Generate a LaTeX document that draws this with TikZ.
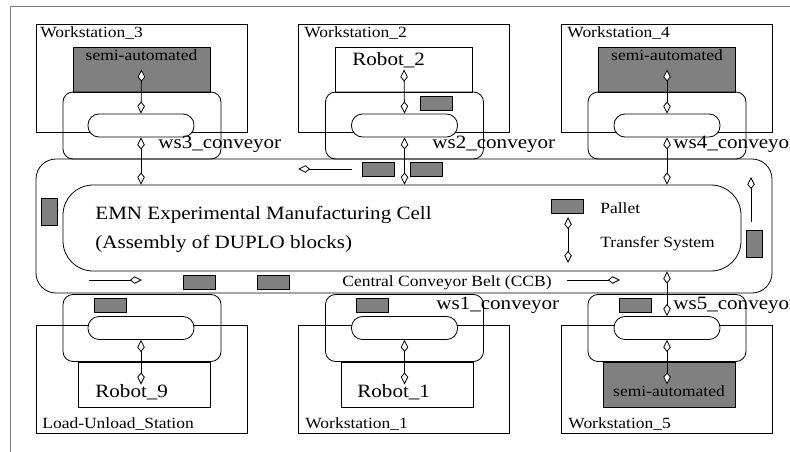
\documentclass[tikz,border=0pt]{standalone}
\usepackage{fontspec}
\setmainfont{Liberation Serif}[FakeStretch=1.12]
\usetikzlibrary{arrows.meta}

\definecolor{palletgray}{gray}{0.5}

\tikzset{
  station/.style={draw, minimum width=211pt, minimum height=108pt, inner sep=0pt},
  cellbox/.style={draw, minimum width=137pt, minimum height=45pt, inner sep=0pt},  % robot cell
  lowcell/.style={cellbox, minimum width=132pt},
  semi/.style={fill=palletgray},
  convbox/.style={draw, rounded corners=10pt, minimum width=158pt, minimum height=67pt, inner sep=0pt},
  pill/.style={draw, fill=white, rounded corners=11pt, minimum width=106pt, minimum height=23pt, inner sep=0pt},
  pallet/.style={draw, fill=palletgray, minimum width=32pt, minimum height=14pt, inner sep=0pt},
  vpallet/.style={pallet, minimum width=16pt, minimum height=27pt},
  smalltxt/.style={font=\fontsize{15.6}{18}\selectfont, inner sep=0pt},
  bigtxt/.style={font=\fontsize{18.8}{22}\selectfont, inner sep=0pt},
}

\begin{document}
\begin{tikzpicture}[x=1pt, y=-1pt, line width=0.8pt,
    >={Kite[length=12pt, width=7.5pt, inset=4.5pt, fill=white]}]   % open kite tips as in xfig
    \useasboundingbox (0,0) rectangle (790,452);
    \clip (0,0) rectangle (790,452);
    \draw[gray] (10,452) -- (10,6) -- (790,6);

    % stations (top row)
    \node[station] (ws3) at (141.5,78) {};
    \node[station] (ws2) at (404,78) {};
    \node[station] (ws4) at (667,78) {};
    \node[cellbox, semi] (semi3) at (141.5,69.5) {};
    \node[cellbox] (robot2) at (404,69.5) {};
    \node[cellbox, semi] (semi4) at (667,69.5) {};

    % stations (bottom row)
    \node[station] (ws9) at (141.5,379) {};
    \node[station] (ws1) at (404,379) {};
    \node[station] (ws5) at (667,379) {};
    \node[lowcell] (robot9) at (144,384.5) {};
    \node[lowcell] (robot1) at (407,384.5) {};
    \node[lowcell, semi] (semi5) at (669,384.5) {};

    % station conveyors
    \node[convbox] (conv3) at (142,125.5) {};
    \node[convbox] (conv2) at (404.5,125.5) {};
    \node[convbox] (conv4) at (667,125.5) {};
    \node[convbox] (conv9) at (142,328) {};
    \node[convbox] (conv1) at (404.5,328) {};
    \node[convbox] (conv5) at (667,328) {};
    \node[pill] (pill3) at (141,125.5) {};
    \node[pill] (pill2) at (404.5,125.5) {};
    \node[pill] (pill4) at (667,125.5) {};
    \node[pill] (pill9) at (141,328) {};
    \node[pill] (pill1) at (404.5,328) {};
    \node[pill] (pill5) at (667,328) {};

    % central conveyor belt
    \node[draw, rounded corners=20pt, minimum width=736pt, minimum height=134pt, inner sep=0pt] (ccb) at (404,226) {};
    \node[draw, rounded corners=30pt, minimum width=678pt, minimum height=86pt, inner sep=0pt] (ccbin) at (402,228) {};

    % pallets
    \node[pallet] (p2) at (436,103) {};
    \node[pallet] (pt1) at (378,169) {};
    \node[pallet] (pt2) at (426,169) {};
    \node[pallet] (pb1) at (199,282.5) {};
    \node[pallet] (pb2) at (273,282.5) {};
    \node[pallet] (p9) at (110,305) {};
    \node[pallet] (p1) at (372.5,305) {};
    \node[pallet] (p5) at (635,305) {};
    \node[vpallet] (pl) at (49.5,212) {};
    \node[vpallet] (pr) at (754,244) {};
    \node[pallet] (plegend) at (567,206) {};

    % flow direction on the belt
    \coordinate (ftop1) at (352,169);  \coordinate (ftop2) at (298,169);
    \coordinate (fbl1) at (89,280);    \coordinate (fbl2) at (142,280);
    \coordinate (fbr1) at (567,280);   \coordinate (fbr2) at (620,280);
    \coordinate (fr1) at (751,222);    \coordinate (fr2) at (751,177);
    \draw[->] (ftop1) -- (ftop2);
    \draw[->] (fbl1) -- (fbl2);
    \draw[->] (fbr1) -- (fbr2);
    \draw[->] (fr1) -- (fr2);

    % transfer systems
    \draw[<->] (semi3.center) -- (pill3.north);
    \draw[<->] (pill3.south) -- (pill3.south |- ccbin.north);
    \draw[<->] (robot2.center) -- (pill2.north);
    \draw[<->] (pill2.south) -- (pill2.south |- ccbin.north);
    \draw[<->] (semi4.center) -- (pill4.north);
    \draw[<->] (pill4.south) -- (pill4.south |- ccbin.north);
    \draw[<->] (pill9.south) -- (pill9.south |- robot9.center);
    \draw[<->] (pill1.south) -- (pill1.south |- robot1.center);
    \draw[<->] (pill5.north |- ccbin.south) -- (pill5.north);
    \draw[<->] (pill5.south) -- (pill5.south |- semi5.center);
    \coordinate (leg1) at (568,217);   \coordinate (leg2) at (568,263);
    \draw[<->] (leg1) -- (leg2);

    % labels
    \node[smalltxt, anchor=base west] (t3) at (40,38) {Workstation\_3};
    \node[smalltxt, anchor=base west] (t2) at (304,38) {Workstation\_2};
    \node[smalltxt, anchor=base west] (t4) at (567,38) {Workstation\_4};
    \node[smalltxt, anchor=base] (s3) at (141.5,60) {semi-automated};
    \node[bigtxt, anchor=base west] (r2) at (352,66) {Robot\_2};
    \node[smalltxt, anchor=base] (s4) at (667,60) {semi-automated};
    \node[bigtxt, anchor=base west] (c3) at (158,148) {ws3\_conveyor};
    \node[bigtxt, anchor=base west] (c2) at (432,148) {ws2\_conveyor};
    \node[bigtxt, anchor=base west] (c4) at (673,148) {ws4\_conveyor};
    \node[bigtxt, anchor=base west] (title1) at (95,219) {EMN Experimental Manufacturing Cell};
    \node[bigtxt, anchor=base west] (title2) at (95,248) {(Assembly of DUPLO blocks)};
    \node[smalltxt, anchor=base west] (lp) at (600,213) {Pallet};
    \node[smalltxt, anchor=base west] (lt) at (600,247) {Transfer System};
    \node[smalltxt, anchor=base west] (lccb) at (342,286) {Central Conveyor Belt (CCB)};
    \node[bigtxt, anchor=base west] (c1) at (436,309) {ws1\_conveyor};
    \node[bigtxt, anchor=base west] (c5) at (673,309) {ws5\_conveyor};
    \node[bigtxt, anchor=base west] (r9) at (95,397) {Robot\_9};
    \node[bigtxt, anchor=base west] (r1) at (357,397) {Robot\_1};
    \node[smalltxt, anchor=base] (s5) at (669,396) {semi-automated};
    \node[smalltxt, anchor=base west] (t9) at (42,428) {Load-Unload\_Station};
    \node[smalltxt, anchor=base west] (t1) at (305,428) {Workstation\_1};
    \node[smalltxt, anchor=base west] (t5) at (568,428) {Workstation\_5};
\end{tikzpicture}
\end{document}
